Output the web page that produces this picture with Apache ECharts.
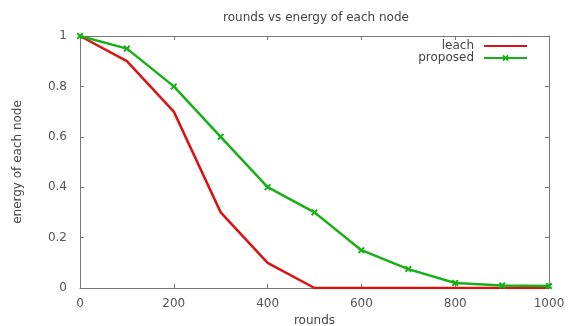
<!DOCTYPE html>
<html>
<head>
<meta charset="utf-8">
<script src="https://cdn.jsdelivr.net/npm/echarts@6/dist/echarts.min.js"></script>
<style>
  html, body { margin: 0; padding: 0; background: #fff; }
  #chart { width: 572px; height: 326px; }
</style>
</head>
<body>
<div id="chart"></div>
<script>
const rounds = [0, 100, 200, 300, 400, 500, 600, 700, 800, 900, 1000];
const leach = [1, 0.9, 0.7, 0.3, 0.1, 0, 0, 0, 0, 0, 0];
const proposed = [1, 0.95, 0.8, 0.6, 0.4, 0.3, 0.15, 0.075, 0.02, 0.01, 0.008];

const xTicks = [0, 200, 400, 600, 800, 1000];
const yTicks = [0, 0.2, 0.4, 0.6, 0.8, 1];

const toPairs = (xs, ys) => xs.map((x, i) => [x, ys[i]]);

// filled thick cross, gnuplot style point
const crossMark = 'path://M0,2L2,0L5,3L8,0L10,2L7,5L10,8L8,10L5,7L2,10L0,8L3,5Z';

const red = '#dc1212';
const green = '#18b018';
const axisGray = '#777';
const textGray = '#444';
const font = 'DejaVu Sans';

const chart = echarts.init(document.getElementById('chart'));

const xBase = {
    type: 'value', min: 0, max: 1000, interval: 200,
    axisLine: { show: true, onZero: false, lineStyle: { color: axisGray, width: 1 } },
    axisTick: { show: true, inside: true, length: 4, lineStyle: { color: axisGray } },
    splitLine: { show: false }
};
const yBase = {
    type: 'value', min: 0, max: 1, interval: 0.2,
    axisLine: { show: true, onZero: false, lineStyle: { color: axisGray, width: 1 } },
    axisTick: { show: true, inside: true, length: 4, lineStyle: { color: axisGray } },
    splitLine: { show: false }
};

chart.setOption({
    animation: false,
    textStyle: { fontFamily: font },
    title: {
        text: 'rounds vs energy of each node',
        left: 311, top: 7, textAlign: 'center',
        textStyle: { fontSize: 12, fontWeight: 'normal', color: textGray, fontFamily: font }
    },
    legend: {
        orient: 'vertical',
        right: 39, top: 35,
        align: 'right',
        itemWidth: 43, itemHeight: 8, itemGap: 0,
        textStyle: { fontSize: 12, color: textGray, fontFamily: font, padding: [0, 5, 0, 0] },
        data: [
            { name: 'leach', itemStyle: { opacity: 0 } },
            { name: 'proposed' }
        ]
    },
    grid: { left: 80, right: 23, top: 36, bottom: 38, outerBoundsMode: 'none', containLabel: false },
    xAxis: [
        Object.assign({}, xBase, {
            position: 'bottom',
            name: 'rounds', nameLocation: 'middle', nameGap: 25,
            nameTextStyle: { fontSize: 12, color: textGray },
            axisLabel: { fontSize: 12, color: '#555', margin: 10, formatter: v => xTicks.includes(v) ? String(v) : '' }
        }),
        Object.assign({}, xBase, { position: 'top', axisLabel: { show: false } })
    ],
    yAxis: [
        Object.assign({}, yBase, {
            position: 'left',
            name: 'energy of each node', nameLocation: 'middle', nameGap: 56,
            nameTextStyle: { fontSize: 12, color: textGray },
            axisLabel: { fontSize: 12, color: '#555', margin: 13,
                formatter: v => { const t = yTicks.find(k => Math.abs(k - v) < 1e-9); return t === undefined ? '' : String(+t.toFixed(1)); } }
        }),
        Object.assign({}, yBase, { position: 'right', axisLabel: { show: false } })
    ],
    series: [
        {
            name: 'leach', type: 'line',
            data: toPairs(rounds, leach),
            symbol: 'none',
            lineStyle: { color: red, width: 2.5 },
            itemStyle: { color: red },
            z: 2
        },
        {
            name: 'proposed', type: 'line',
            data: toPairs(rounds, proposed),
            symbol: crossMark, symbolSize: 7, showSymbol: true,
            lineStyle: { color: green, width: 2.5 },
            itemStyle: { color: green },
            z: 3
        }
    ]
});
</script>
</body>
</html>
